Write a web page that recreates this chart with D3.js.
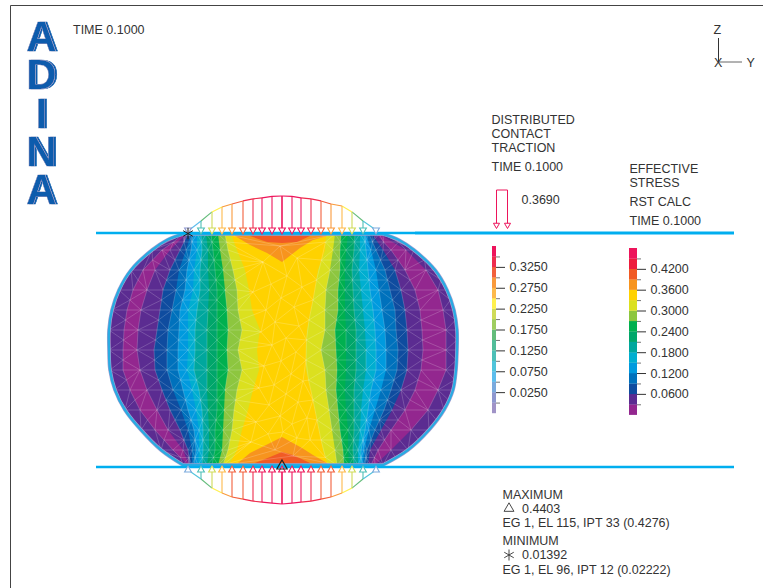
<!DOCTYPE html>
<html>
<head>
<meta charset="utf-8">
<script src="https://cdn.jsdelivr.net/npm/d3@7"></script>
<style>
  html, body { margin: 0; padding: 0; background: #fff; }
  svg { display: block; }
  text { font-family: "Liberation Sans", Arial, sans-serif; font-size: 12.5px; fill: #333; }
</style>
</head>
<body>
<div id="chart"></div>
<script>
// contour rows, height above the centre of the disc
var rows = [116, 100, 80, 60, 40, 20, 0, -20, -40, -60, -80, -100, -115];

// half widths of the contour edges per row, outer edge first
var leftEdges = [
  [100, 98, 97, 95, 92, 90, 86, 82, 77, 72, 65, 58, 52],
  [131, 121, 113, 103, 97, 92, 86, 81, 75, 70, 63, 55, 46],
  [152, 140, 128, 113, 104, 96, 89, 83, 75, 68, 60, 50, 38],
  [164, 150, 136, 120, 107, 98, 90, 83, 74, 66, 58, 46, 34],
  [171, 156, 142, 123, 111, 103, 95, 86, 75, 66, 56, 45, 31],
  [174, 159, 145, 126, 115, 104, 95, 88, 76, 66, 55, 41, 23],
  [174, 160, 146, 129, 116, 105, 95, 88, 76, 66, 56, 45, 26],
  [173, 160, 143, 128, 116, 105, 96, 89, 76, 66, 55, 41, 24],
  [168, 153, 136, 121, 110, 100, 91, 84, 76, 66, 58, 46, 30],
  [158, 143, 126, 113, 102, 95, 87, 81, 75, 66, 59, 49, 35],
  [142, 128, 115, 103, 95, 89, 84, 80, 74, 68, 60, 51, 41],
  [122, 110, 100, 95, 91, 87, 84, 80, 74, 68, 61, 55, 46],
  [100, 95, 94, 93, 91, 89, 85, 81, 76, 71, 65, 60, 54]
];
var rightEdges = [
  [100, 96, 93, 89, 86, 83, 81, 77, 72, 65, 58, 52, 43],
  [131, 123, 108, 100, 93, 88, 83, 77, 71, 63, 57, 50, 42],
  [152, 143, 122, 112, 102, 93, 85, 76, 69, 62, 57, 47, 35],
  [164, 155, 132, 118, 107, 96, 87, 78, 70, 62, 55, 43, 32],
  [171, 160, 137, 122, 112, 99, 90, 80, 71, 62, 55, 42, 28],
  [174, 163, 139, 124, 113, 102, 92, 82, 73, 63, 52, 42, 24],
  [174, 163, 140, 125, 115, 103, 93, 83, 73, 63, 53, 38, 23],
  [173, 163, 138, 124, 114, 103, 93, 83, 73, 63, 54, 42, 23],
  [170, 155, 132, 118, 108, 98, 88, 80, 71, 62, 53, 43, 28],
  [161, 145, 122, 109, 101, 92, 85, 78, 71, 63, 55, 46, 32],
  [146, 128, 108, 98, 92, 86, 82, 77, 71, 65, 57, 49, 36],
  [125, 108, 95, 87, 84, 81, 78, 75, 70, 65, 60, 52, 40],
  [100, 92, 88, 85, 82, 80, 78, 75, 71, 66, 61, 54, 45]
];
// stress inside each contour band
var bandStress = [0.045, 0.015, 0.045, 0.075, 0.105, 0.135, 0.165, 0.195, 0.225, 0.255, 0.285, 0.315, 0.345];

// body outline, its own rows
var outlineRows = [116, 110, 100, 80, 60, 40, 20, 0, -20, -40, -60, -80, -100, -115];
var outlineLeft = [100, 116, 131, 152, 164, 171, 174, 174, 173, 168, 158, 142, 122, 100];
var outlineRight = [100, 116, 131, 152, 164, 171, 174, 174, 173, 170, 161, 146, 125, 100];

// orange and red caps, [across, height]
var topOrange = [[-48, 114], [-33, 105], [-16, 97], [-1, 88], [17, 102], [30, 110], [44, 114]];
var topRed = [[-33, 114], [-16, 108], [-1, 107], [14, 108], [27, 114]];
var bottomOrange = [[-45, -113], [-33, -103], [-23, -98], [-1, -87], [19, -98], [30, -105], [44, -113]];
var bottomRed = [[-28, -113], [-13, -107], [-1, -102], [10, -105], [27, -113]];
var capStress = [0.375, 0.405];

// extra mesh nodes in the yellow middle, [across, height]
var meshMiddle = [
  [-3, 104], [14, 92], [-20, 88], [4, 74], [-12, 66], [19, 63], [-30, 58], [-2, 52], [11, 43], [-17, 40],
  [-8, 28], [16, 24], [-22, 18], [3, 12], [-11, 5], [13, -2], [-2, -11], [-19, -16], [8, -24], [20, -31],
  [-9, -35], [-24, -38], [3, -44], [15, -52], [-14, -55], [-3, -66], [24, -68], [9, -74], [-27, -72], [-15, -84],
  [14, -88], [0, -82], [27, -90], [-32, -92], [-8, -100], [10, -106]
];

// distributed traction arrows
var arrowPos = [-95, -82, -71, -61, -51, -40, -30, -21, -11, -1, 9, 18, 28, 38, 48, 59, 69, 80, 93];
var tractionTop = [0.02, 0.12, 0.21, 0.26, 0.29, 0.32, 0.34, 0.35, 0.365, 0.369, 0.365, 0.35, 0.34, 0.32, 0.29, 0.27, 0.21, 0.12, 0.03];
var tractionBottom = [0.03, 0.12, 0.21, 0.26, 0.30, 0.32, 0.34, 0.35, 0.36, 0.369, 0.36, 0.35, 0.34, 0.32, 0.30, 0.26, 0.21, 0.12, 0.03];

// legends
var tractionColors = ["#a093c7", "#8e97cf", "#7baadd", "#5dbdec", "#50c4db", "#4dbfb7", "#52bd9a", "#63bc7a",
                      "#9fcd5f", "#cfdb58", "#fff04d", "#fdb94b", "#f99a3c", "#f2603c", "#ee2c4d", "#ed145b"];
var stressColors = ["#93278f", "#5b2c91", "#0f4c9f", "#0071bc", "#009ade", "#00aed0", "#00a79d", "#00a66a",
                    "#00b04f", "#8dc63f", "#dbe01f", "#ffd200", "#f7941e", "#f15a24", "#ed1c3c", "#ed145b"];
var tractionTicks = [0.325, 0.275, 0.225, 0.175, 0.125, 0.075, 0.025];
var tractionMinor = [0.35, 0.30, 0.25, 0.20, 0.15, 0.10, 0.05, 0];
var stressTicks = [0.42, 0.36, 0.30, 0.24, 0.18, 0.12, 0.06];
var stressMinor = [0.45, 0.39, 0.33, 0.27, 0.21, 0.15, 0.09, 0.03];

var blue = "#00aeef";
var svg = d3.select("#chart").append("svg").attr("width", 763).attr("height", 588);

var x = d3.scaleLinear().domain([-174, 174]).range([109, 457]);
var z = d3.scaleLinear().domain([117, -117]).range([233, 467]);
var stressColor = d3.scaleQuantize().domain([0, 0.48]).range(stressColors);
var tractionColor = d3.scaleQuantize().domain([-0.025, 0.375]).range(tractionColors);
var tractionLen = d3.scaleLinear().domain([0, 0.369]).range([0, 37]);

// frame
svg.append("path").attr("d", "M763,5.5H10.5V588").attr("fill", "none").attr("stroke", "#444").attr("stroke-width", 1);

// logo, the echo on the right of each letter comes from a filter
var inline = svg.append("filter").attr("id", "inline")
    .attr("x", "-20%").attr("y", "-20%").attr("width", "140%").attr("height", "140%");
inline.append("feOffset").attr("in", "SourceGraphic").attr("dx", 1.7).attr("result", "echo");
inline.append("feMorphology").attr("in", "SourceAlpha").attr("operator", "dilate").attr("radius", 0.45).attr("result", "grown");
inline.append("feFlood").attr("flood-color", "#fff").attr("result", "white");
inline.append("feComposite").attr("in", "white").attr("in2", "grown").attr("operator", "in").attr("result", "gap");
var merge = inline.append("feMerge");
merge.append("feMergeNode").attr("in", "echo");
merge.append("feMergeNode").attr("in", "gap");
merge.append("feMergeNode").attr("in", "SourceGraphic");

var logoLetters = ["A", "D", "I", "N", "A"];
var logoBase = [51, 89, 128, 166, 204];
logoLetters.forEach(function (l, i) {
    svg.append("text").text(l).attr("x", 41.5).attr("y", logoBase[i]).attr("text-anchor", "middle")
        .style("font-size", "42px").style("font-weight", "bold").style("fill", "#0a5cad")
        .attr("stroke", "#0a5cad").attr("stroke-width", 0.5)
        .attr("filter", "url(#inline)");
});

// body shape, each edge goes down the left side and back up the right
var edgeLine = d3.line().x(function (d) { return x(d[0]); }).y(function (d) { return z(d[1]); });
function edgePoints(k) {
    var pts = rows.map(function (r, i) { return [-leftEdges[i][k], r]; });
    for (var i = rows.length - 1; i >= 0; i--) pts.push([rightEdges[i][k], rows[i]]);
    return pts;
}
// flat top and bottom of the contact zone
function bodyPath() {
    var curve = d3.line().x(edgeLine.x()).y(edgeLine.y()).curve(d3.curveCatmullRom.alpha(0.5));
    var left = outlineRows.map(function (r, i) { return [-outlineLeft[i], r]; });
    var right = outlineRows.map(function (r, i) { return [outlineRight[i], r]; }).reverse();
    return curve(left) + "L" + curve(right).slice(1) + "Z";
}
var bodyD = bodyPath();
svg.append("clipPath").attr("id", "bodyClip").append("path").attr("d", bodyD);

var body = svg.append("g");
body.append("path").attr("d", bodyD).attr("fill", stressColor(bandStress[0]));
body.append("g").attr("clip-path", "url(#bodyClip)")
    .selectAll("path").data(bandStress.slice(1))
    .enter().append("path")
    .attr("d", function (d, i) { return edgeLine(edgePoints(i + 1)) + "Z"; })
    .attr("fill", function (d) { return stressColor(d); });

var caps = body.append("g").attr("clip-path", "url(#bodyClip)");
function capPath(pts, edge) {
    var first = pts[0], last = pts[pts.length - 1];
    return edgeLine([[first[0], edge]].concat(pts, [[last[0], edge]])) + "Z";
}
caps.append("path").attr("d", capPath(topOrange, 117)).attr("fill", stressColor(capStress[0]));
caps.append("path").attr("d", capPath(bottomOrange, -117)).attr("fill", stressColor(capStress[0]));
caps.append("path").attr("d", capPath(topRed, 117)).attr("fill", stressColor(capStress[1]));
caps.append("path").attr("d", capPath(bottomRed, -117)).attr("fill", stressColor(capStress[1]));

// element mesh, triangulated through the contour nodes
var nodes = meshMiddle.map(function (m) { return [x(m[0]), z(m[1])]; });
rows.forEach(function (r, i) {
    leftEdges[i].forEach(function (w, k) { if (k < 12) nodes.push([x(-w), z(r)]); });
    rightEdges[i].forEach(function (w, k) { if (k < 12) nodes.push([x(w), z(r)]); });
    if (i < rows.length - 1) {
        var mid = (r + rows[i + 1]) / 2;
        leftEdges[i].forEach(function (w, k) {
            if (k % 2 === 1) nodes.push([x(-(w + leftEdges[i + 1][k]) / 2), z(mid)]);
        });
        rightEdges[i].forEach(function (w, k) {
            if (k % 2 === 0) nodes.push([x((w + rightEdges[i + 1][k]) / 2), z(mid)]);
        });
    }
});
body.append("path").attr("clip-path", "url(#bodyClip)")
    .attr("d", d3.Delaunay.from(nodes).render())
    .attr("fill", "none").attr("stroke", "#fff").attr("stroke-opacity", 0.27).attr("stroke-width", 0.7);

// body outline and the two contact lines
body.append("path").attr("d", bodyD).attr("fill", "none").attr("stroke", "#a9a0d0").attr("stroke-width", 3.6);
body.append("path").attr("d", bodyD).attr("fill", "none").attr("stroke", "#29abe2").attr("stroke-width", 2.4);
svg.append("line").attr("x1", 96).attr("x2", 415).attr("y1", z(117)).attr("y2", z(117)).attr("stroke", blue).attr("stroke-width", 2.4);
svg.append("line").attr("x1", 415).attr("x2", 734).attr("y1", z(117)).attr("y2", z(117)).attr("stroke", blue).attr("stroke-width", 3);
svg.append("line").attr("x1", 96).attr("x2", 734).attr("y1", z(-117)).attr("y2", z(-117)).attr("stroke", blue).attr("stroke-width", 2.4);

// traction arrows, dir -1 above the body, 1 below it
function drawArrows(values, base, dir) {
    var g = svg.append("g");
    var y0 = z(base);
    var tips = values.map(function (v) { return y0 + dir * tractionLen(v); });
    for (var i = 0; i < values.length - 1; i++) {
        g.append("line")
            .attr("x1", x(arrowPos[i])).attr("x2", x(arrowPos[i + 1]))
            .attr("y1", tips[i]).attr("y2", tips[i + 1])
            .attr("stroke", tractionColor((values[i] + values[i + 1]) / 2)).attr("stroke-width", 1.1);
    }
    values.forEach(function (v, i) {
        var px = x(arrowPos[i]);
        g.append("line").attr("x1", px).attr("x2", px).attr("y1", tips[i]).attr("y2", y0)
            .attr("stroke", tractionColor(v)).attr("stroke-width", v > 0.366 ? 1.6 : 1.1);
        g.append("path").attr("d", d3.symbol().type(d3.symbolTriangle).size(20)())
            .attr("transform", "translate(" + px + "," + (y0 + dir * 3) + ") rotate(" + (dir < 0 ? 180 : 0) + ")")
            .attr("fill", "#fff").attr("stroke", tractionColor(v)).attr("stroke-width", 1.1);
    });
}
drawArrows(tractionTop, 117, -1);
drawArrows(tractionBottom, -117, 1);

// max and min markers
svg.append("path").attr("d", d3.symbol().type(d3.symbolTriangle).size(46)())
    .attr("transform", "translate(" + x(-1) + "," + 466 + ")")
    .attr("fill", "none").attr("stroke", "#222").attr("stroke-width", 1.2);
svg.append("path").attr("d", d3.symbol().type(d3.symbolAsterisk).size(90)())
    .attr("transform", "translate(" + x(-95) + "," + 233.5 + ")")
    .attr("fill", "none").attr("stroke", "#222").attr("stroke-width", 1);

// colour legends
function drawLegend(left, width, scale, colors, major, minor, fmt) {
    var g = svg.append("g");
    var d = scale.domain(), step = (d[1] - d[0]) / colors.length;
    g.selectAll("rect").data(colors).enter().append("rect")
        .attr("x", left).attr("width", width)
        .attr("y", function (c, i) { return scale(d[0] + (i + 1) * step); })
        .attr("height", function (c, i) { return scale(d[0] + i * step) - scale(d[0] + (i + 1) * step) + 0.2; })
        .attr("fill", function (c) { return c; });
    var minorAxis = g.append("g").attr("transform", "translate(" + (left + width) + ",0)")
        .call(d3.axisRight(scale).tickValues(minor).tickSize(4).tickFormat(""));
    minorAxis.select(".domain").remove();
    minorAxis.selectAll("line").attr("stroke", "#777");
    var axis = g.append("g").attr("transform", "translate(" + (left + width) + ",0)")
        .call(d3.axisRight(scale).tickValues(major).tickSize(9).tickPadding(4.5).tickFormat(fmt));
    axis.select(".domain").remove();
    axis.selectAll("line").attr("stroke", "#333");
    axis.selectAll("text").style("font-size", "12.5px").style("font-family", '"Liberation Sans", Arial, sans-serif');
    axis.attr("font-size", null).attr("font-family", null);
}
var tractionLegend = d3.scaleLinear().domain([-0.025, 0.375]).range([413, 246]);
var stressLegend = d3.scaleLinear().domain([0, 0.48]).range([414.7, 248]);
drawLegend(492, 4, tractionLegend, tractionColors, tractionTicks, tractionMinor, d3.format(".4f"));
drawLegend(629, 8, stressLegend, stressColors, stressTicks, stressMinor, d3.format(".4f"));

// traction legend arrow
var legendArrow = svg.append("g").attr("stroke", "#ed145b").attr("fill", "none");
legendArrow.append("path").attr("d", "M496.5,228V190H507.5V228").attr("stroke-width", 1);
[496.5, 507.5].forEach(function (ax) {
    legendArrow.append("path").attr("d", d3.symbol().type(d3.symbolTriangle).size(16)())
        .attr("transform", "translate(" + ax + ",225) rotate(180)").attr("fill", "#fff");
});

// axes triad
var triad = svg.append("g").attr("stroke", "#333");
triad.append("line").attr("x1", 718.5).attr("x2", 718.5).attr("y1", 38).attr("y2", 62).attr("stroke-width", 1);
triad.append("line").attr("x1", 718).attr("x2", 742).attr("y1", 62).attr("y2", 62).attr("stroke", "#666").attr("stroke-width", 1);

// labels
var labels = [
  ["TIME 0.1000", 73, 34], ["Z", 713.5, 34], ["X", 714, 66.5], ["Y", 746.5, 66.5],
  ["DISTRIBUTED", 491.5, 124], ["CONTACT", 491.5, 138], ["TRACTION", 491.5, 152], ["TIME 0.1000", 491.5, 171],
  ["0.3690", 521.5, 204],
  ["EFFECTIVE", 629.5, 173], ["STRESS", 629.5, 187], ["RST CALC", 629.5, 205.5], ["TIME 0.1000", 629.5, 225],
  ["MAXIMUM", 502.5, 498.5], ["0.4403", 522, 512.5], ["EG 1, EL 115, IPT 33 (0.4276)", 502.5, 527],
  ["MINIMUM", 502.5, 545], ["0.01392", 522, 559], ["EG 1, EL 96, IPT 12 (0.02222)", 502.5, 574]
];
svg.append("g").selectAll("text").data(labels).enter().append("text")
    .attr("x", function (d) { return d[1]; })
    .attr("y", function (d) { return d[2]; })
    .text(function (d) { return d[0]; });

// markers in the max/min note
svg.append("path").attr("d", d3.symbol().type(d3.symbolTriangle).size(42)())
    .attr("transform", "translate(509,508.5)").attr("fill", "none").attr("stroke", "#333").attr("stroke-width", 0.9);
svg.append("path").attr("d", d3.symbol().type(d3.symbolAsterisk).size(85)())
    .attr("transform", "translate(509,555)").attr("fill", "none").attr("stroke", "#333").attr("stroke-width", 0.9);
</script>
</body>
</html>
